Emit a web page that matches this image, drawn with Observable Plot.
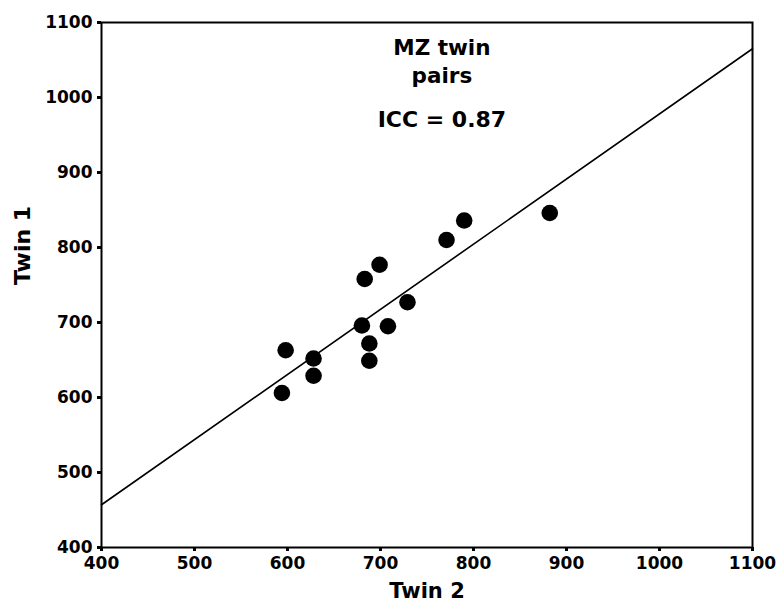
<!DOCTYPE html>
<html>
<head>
<meta charset="utf-8">
<script src="https://cdn.jsdelivr.net/npm/d3@7"></script>
<script src="https://cdn.jsdelivr.net/npm/@observablehq/plot@0.6"></script>
<style>
  html, body { margin: 0; padding: 0; background: #fff; }
</style>
</head>
<body>
<div id="chart"></div>
<script>
// Data
const twin2 = [594, 598, 628, 628, 680, 688, 688, 683, 699, 708, 729, 771, 790, 882];
const twin1 = [606, 663, 652, 629, 696, 672, 649, 758, 777, 695, 727, 810, 836, 846];

// Fitted line endpoints (as drawn)
const lineX = [400, 1100];
const lineY = [457, 1065];

// Tick values
const xTicks = [400, 500, 600, 700, 800, 900, 1000, 1100];
const yTicks = [400, 500, 600, 700, 800, 900, 1000, 1100];

// Annotation text
const annLabels = ["MZ twin", "pairs", "ICC = 0.87"];
const annX = [766, 766, 766];
const annY = [1065.6, 1028, 969.5];
const annSize = [21.5, 21.5, 22];

const points = twin2.map((x, i) => ({x, y: twin1[i]}));
const fitLine = lineX.map((x, i) => ({x, y: lineY[i]}));
const ann = annLabels.map((t, i) => ({t, x: annX[i], y: annY[i], s: annSize[i]}));

const chart = Plot.plot({
  width: 780,
  height: 607,
  marginLeft: 101,
  marginRight: 28,
  marginTop: 22,
  marginBottom: 60,
  style: {
    fontFamily: "'DejaVu Sans', sans-serif",
    fontWeight: "bold",
    fontSize: "17px",
    background: "#fff",
    color: "#000"
  },
  x: {domain: [400, 1100]},
  y: {domain: [400, 1100]},
  marks: [
    Plot.frame({stroke: "#000", strokeWidth: 2}),
    Plot.axisX({ticks: xTicks, tickSize: 4, tickPadding: 5, strokeWidth: 3, tickFormat: d => String(d), label: null, fontSize: 17}),
    Plot.axisY({ticks: yTicks, tickSize: 4, tickPadding: 5, strokeWidth: 3, tickFormat: d => String(d), label: null, fontSize: 17}),
    Plot.line(fitLine, {x: "x", y: "y", stroke: "#000", strokeWidth: 1.6}),
    Plot.dot(points, {x: "x", y: "y", r: 8.3, fill: "#000", stroke: null}),
    Plot.text(ann, {x: "x", y: "y", text: "t", fontSize: d => d.s, fontWeight: "bold", fill: "#000"}),
    Plot.text(["Twin 2"], {frameAnchor: "bottom", dy: 50, text: d => d, fontSize: 21, fontWeight: "bold", fill: "#000"}),
    Plot.text(["Twin 1"], {frameAnchor: "left", dx: -79, rotate: -90, text: d => d, fontSize: 22, fontWeight: "bold", fill: "#000"})
  ]
});

document.getElementById("chart").appendChild(chart);
</script>
</body>
</html>
